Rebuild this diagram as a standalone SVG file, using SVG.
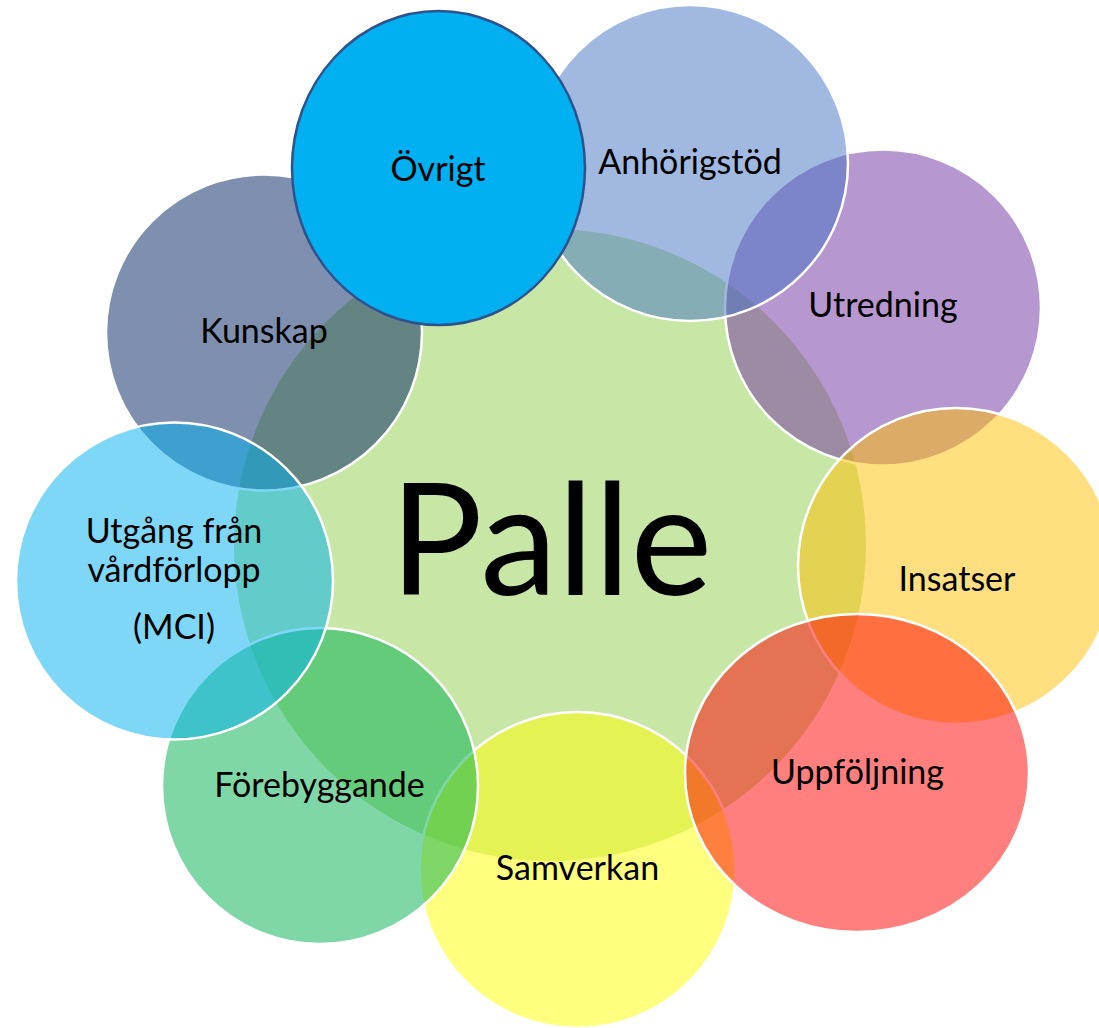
<svg xmlns="http://www.w3.org/2000/svg" width="1099" height="1028" viewBox="0 0 1099 1028">
  <style>
    .c { fill-opacity: 0.5; stroke: #ffffff; stroke-width: 2.5; }
    .t { font-family: "Lato", "Open Sans", sans-serif; font-size: 34px; fill: #000000; text-anchor: middle; }
    .big { font-family: "Lato", "Open Sans", sans-serif; font-size: 155px; fill: #000000; text-anchor: middle; }
  </style>
  <rect x="0" y="0" width="1099" height="1028" fill="#ffffff"/>
  <g id="node-palle">
    <circle cx="550" cy="545" r="316" fill="#92D050" fill-opacity="0.5"/>
    <text class="big" x="551" y="595">Palle</text>
  </g>
  <g id="node-utredning">
    <circle class="c" cx="883" cy="307.5" r="158" fill="#7030A0"/>
    <text class="t" x="883" y="317">Utredning</text>
  </g>
  <g id="node-anhorigstod">
    <circle class="c" cx="690" cy="163" r="158" fill="#4472C4"/>
    <text class="t" x="690" y="174">Anhörigstöd</text>
  </g>
  <g id="node-insatser">
    <circle class="c" cx="956" cy="566" r="158" fill="#FFC000"/>
    <text class="t" x="957" y="591">Insatser</text>
  </g>
  <g id="node-samverkan">
    <circle class="c" cx="577.5" cy="870" r="158" fill="#FFFF00"/>
    <text class="t" x="577.5" y="880">Samverkan</text>
  </g>
  <g id="node-uppfoljning">
    <ellipse class="c" cx="857" cy="773" rx="172" ry="159" fill="#FF0000"/>
    <text class="t" x="857.5" y="784">Uppföljning</text>
  </g>
  <g id="node-forebyggande">
    <circle class="c" cx="320" cy="786" r="158" fill="#00B050"/>
    <text class="t" x="319.5" y="797">Förebyggande</text>
  </g>
  <g id="node-kunskap">
    <circle class="c" cx="264" cy="332.5" r="158" fill="#002060"/>
    <text class="t" x="264" y="343">Kunskap</text>
  </g>
  <g id="node-mci">
    <circle class="c" cx="174.5" cy="581" r="158.5" fill="#00B0F0"/>
    <text class="t" x="174" y="543">Utgång från</text>
    <text class="t" x="174" y="582">vårdförlopp</text>
    <text class="t" x="174" y="639">(MCI)</text>
  </g>
  <g id="node-ovrigt">
    <ellipse cx="438.5" cy="168" rx="146.5" ry="157" fill="#00B0F0" stroke="#2F528F" stroke-width="2.5"/>
    <text class="t" x="438" y="181">Övrigt</text>
  </g>
  <g id="connectors"></g>
</svg>
